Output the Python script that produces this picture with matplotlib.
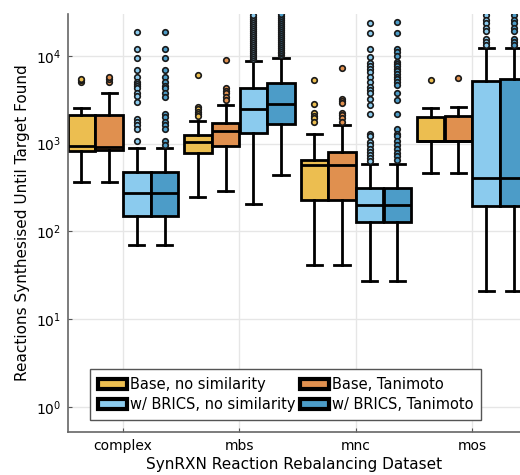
import matplotlib.pyplot as plt
import numpy as np
from matplotlib.patches import Patch

# datasets on the x axis
datasets = ["complex", "mbs", "mnc", "mos"]

# series names and colours
series = ["Base, no similarity", "Base, Tanimoto", "w/ BRICS, no similarity", "w/ BRICS, Tanimoto"]
colors = ["#ECBE50", "#E0904F", "#8BCBEE", "#4C9CC8"]

# box statistics: one list per series, one entry per dataset
q1 = {
    "Base, no similarity": [834, 790, 228, 1070],
    "Base, Tanimoto": [850, 950, 228, 1070],
    "w/ BRICS, no similarity": [151, 1315, 129, 195],
    "w/ BRICS, Tanimoto": [151, 1680, 129, 195],
}
med = {
    "Base, no similarity": [950, 1057, 577, 1070],
    "Base, Tanimoto": [925, 1387, 577, 1070],
    "w/ BRICS, no similarity": [277, 2510, 199, 407],
    "w/ BRICS, Tanimoto": [277, 2862, 199, 407],
}
q3 = {
    "Base, no similarity": [2125, 1259, 653, 2033],
    "Base, Tanimoto": [2125, 1740, 812, 2090],
    "w/ BRICS, no similarity": [476, 4350, 310, 5240],
    "w/ BRICS, Tanimoto": [476, 4965, 310, 5400],
}
whislo = {
    "Base, no similarity": [366, 249, 41.5, 468],
    "Base, Tanimoto": [366, 292, 41.5, 468],
    "w/ BRICS, no similarity": [70, 206, 27.3, 21.2],
    "w/ BRICS, Tanimoto": [70, 440, 27.3, 21.2],
}
whishi = {
    "Base, no similarity": [2575, 1815, 1292, 2575],
    "Base, Tanimoto": [3790, 2740, 1623, 2650],
    "w/ BRICS, no similarity": [893, 8710, 588, 12440],
    "w/ BRICS, Tanimoto": [893, 9490, 588, 12440],
}
fliers = {
    "Base, no similarity": [
        [5100, 5325, 5450],
        [6120, 2620, 2490, 2300, 2170, 2055],
        [5370, 2820, 2225, 2090, 1950, 1780],
        [5370],
    ],
    "Base, Tanimoto": [
        [5100, 5400, 5700],
        [8920, 4285, 4030, 3760, 3390, 3160],
        [7240, 3220, 3050, 2890, 2250, 2100, 1950, 1780],
        [5650],
    ],
    "w/ BRICS, no similarity": [
        [18600, 12100, 9500, 6980, 5720, 5100, 4790, 4550, 4290, 3760, 3530,
         2990, 1915, 1770, 1640, 1470, 1067],
        [9200, 9700, 10200, 10800, 11400, 12000, 12700, 13400, 14100, 14900,
         15700, 16500, 17400, 18300, 19300, 20300, 21400, 22600, 23800, 25100,
         26500, 28000, 29500],
        [23960, 18280, 11920, 9820, 8260, 7690, 7110, 6620, 5810, 5100, 4400,
         4100, 3820, 3210, 2740, 2170, 1282, 1225, 1055, 968, 872, 812, 745, 683, 641],
        [29300, 25700, 23600, 21000, 19300, 15500, 14300, 13350],
    ],
    "w/ BRICS, Tanimoto": [
        [18600, 12100, 9500, 6980, 5720, 5100, 4550, 4290, 3760, 3360, 2170,
         1990, 1770, 1640, 1470, 1067, 960],
        [10200, 10700, 11200, 11800, 12400, 13100, 13800, 14500, 15300, 16100,
         17000, 17900, 18900, 19900, 21000, 22100, 23300, 24600, 25900, 27300,
         28800, 30000],
        [24200, 18300, 12000, 11000, 9900, 8600, 8100, 7600, 7100, 6700, 6300,
         5800, 5400, 5000, 4700, 3800, 3150, 2170, 1460, 1300, 1225, 1070,
         968, 872, 790, 720, 660],
        [29300, 25700, 23600, 21000, 19300, 15500, 14300, 13350],
    ],
}

group_x = np.arange(1, len(datasets) + 1)
offsets = [-0.357, -0.119, 0.119, 0.357]
box_w = 0.236

fig = plt.figure(figsize=(5.2, 4.75), dpi=100)
ax = fig.add_axes([0.1308, 0.0905, 0.8692, 0.88])

for s, col, off in zip(series, colors, offsets):
    stats = []
    for i in range(len(datasets)):
        stats.append({
            "q1": q1[s][i], "med": med[s][i], "q3": q3[s][i],
            "whislo": whislo[s][i], "whishi": whishi[s][i],
            "fliers": fliers[s][i],
        })
    ax.bxp(stats, positions=group_x + off, widths=box_w, capwidths=0.13,
           patch_artist=True, manage_ticks=False,
           boxprops=dict(facecolor=col, edgecolor="black", linewidth=2),
           medianprops=dict(color="black", linewidth=2),
           whiskerprops=dict(color="black", linewidth=2),
           capprops=dict(color="black", linewidth=2),
           flierprops=dict(marker="o", markersize=4, markerfacecolor=col,
                           markeredgecolor="#1a1a1a", markeredgewidth=1.2))

ax.set_yscale("log")
ax.set_ylim(0.52, 30000)
ax.set_xlim(0.528, 4.41)
ax.set_xticks(group_x)
ax.set_xticklabels(datasets)
ax.set_yticks([1, 10, 100, 1000, 10000])
ax.yaxis.set_minor_locator(plt.NullLocator())
ax.tick_params(labelsize=10, color="#555555", length=3, direction="in", pad=5)
ax.grid(True, color="#e6e6e6", linewidth=1)
ax.set_axisbelow(True)
for side in ["top", "right"]:
    ax.spines[side].set_visible(False)
for side in ["left", "bottom"]:
    ax.spines[side].set_color("#666666")
    ax.spines[side].set_linewidth(1.2)

ax.set_xlabel("SynRXN Reaction Rebalancing Dataset", fontsize=11, labelpad=3)
ax.set_ylabel("Reactions Synthesised Until Target Found", fontsize=11, labelpad=4)

handles = [Patch(facecolor=c, edgecolor="black", linewidth=3) for c in colors]
order = [0, 2, 1, 3]
ax.legend([handles[i] for i in order], [series[i] for i in order], ncol=2,
          loc="lower left", bbox_to_anchor=(0.048, 0.029), borderaxespad=0,
          fontsize=10.5, fancybox=False, edgecolor="#555555", framealpha=1,
          handlelength=2.0, handletextpad=0.2, columnspacing=0.3,
          labelspacing=0.3, borderpad=0.55)

fig.savefig("out.png")
